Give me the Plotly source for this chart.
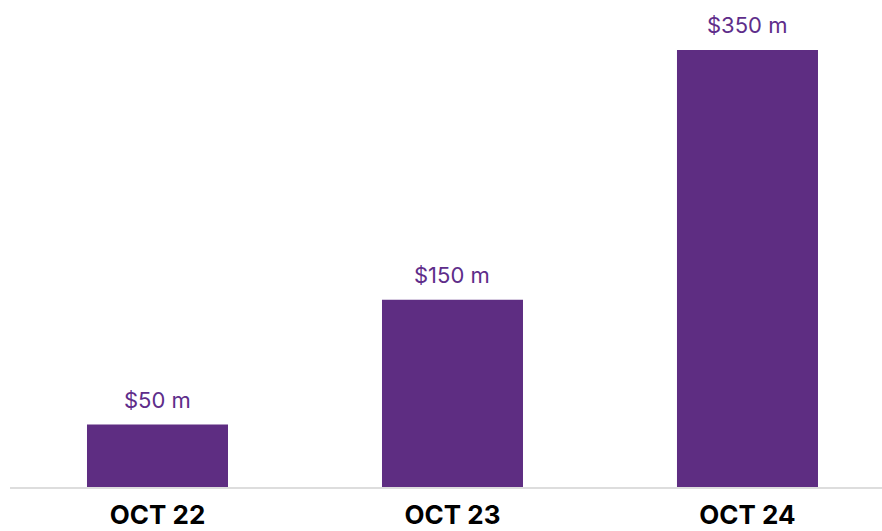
import plotly.graph_objects as go

categories = ["OCT 22", "OCT 23", "OCT 24"]
values = [50, 150, 350]
labels = ["$50 m", "$150 m", "$350 m"]

bar_color = "#5E2D82"
text_color = "#5E2D8A"

fig = go.Figure()
fig.add_trace(go.Bar(x=categories, y=values, marker=dict(color=bar_color, line=dict(width=0)),
                     hoverinfo="skip"))

for c, v, t in zip(categories, values, labels):
    fig.add_annotation(x=c, y=v, text=t, showarrow=False, yanchor="bottom", yshift=10,
                       font=dict(family="Inter", size=22, color=text_color))

fig.update_layout(
    width=882, height=531,
    margin=dict(l=10, r=0, t=0, b=44),
    paper_bgcolor="white", plot_bgcolor="white",
    bargap=0.522,
    showlegend=False,
    xaxis=dict(range=[-0.5, 2.456], showline=True, linecolor="#DDDDDD", linewidth=2,
               showgrid=False, zeroline=False, ticks="outside", ticklen=4, tickcolor="rgba(0,0,0,0)",
               automargin=False,
               tickfont=dict(family="Inter", size=26, color="#000000", weight="bold")),
    yaxis=dict(range=[0, 390], visible=False, showgrid=False, zeroline=False, automargin=False),
)

fig.write_html("out.html")
